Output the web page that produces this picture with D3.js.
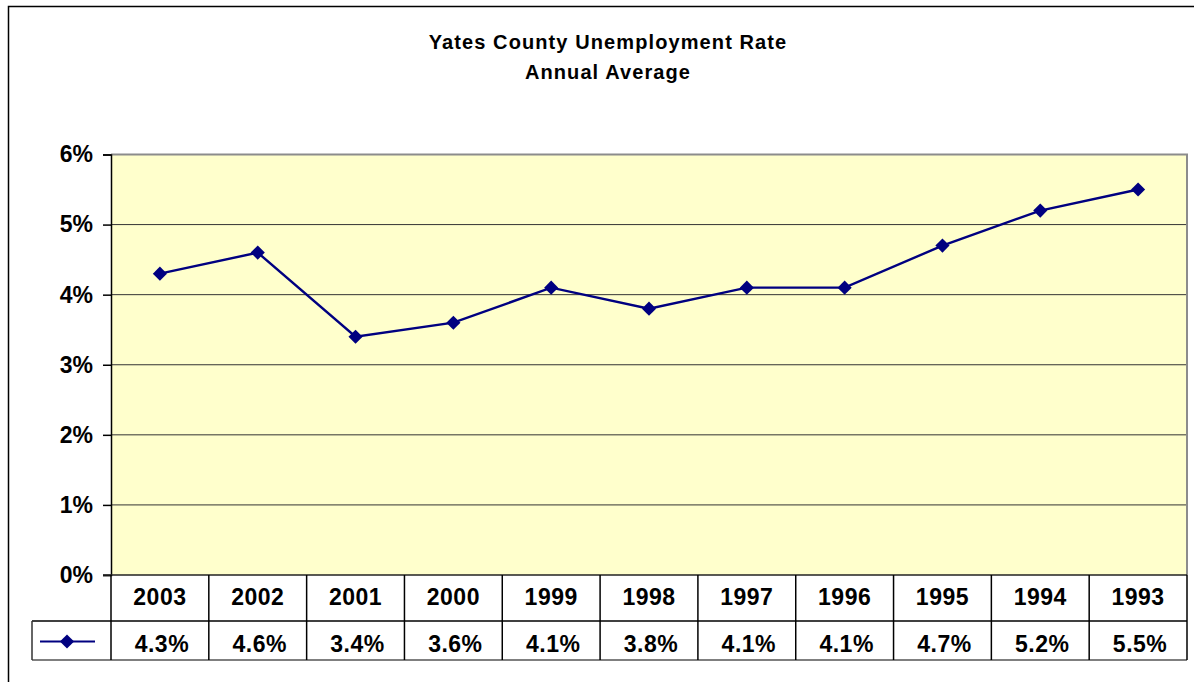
<!DOCTYPE html>
<html>
<head>
<meta charset="utf-8">
<script src="https://cdn.jsdelivr.net/npm/d3@7"></script>
<style>
  body { margin: 0; background: #fff; }
  text { font-family: Arial, "Liberation Sans", sans-serif; font-weight: bold; fill: #000; }
</style>
</head>
<body>
<div id="chart"></div>
<script>
// chart values
var years = ["2003", "2002", "2001", "2000", "1999", "1998", "1997", "1996", "1995", "1994", "1993"];
var rates = [0.043, 0.046, 0.034, 0.036, 0.041, 0.038, 0.041, 0.041, 0.047, 0.052, 0.055];
var yTicks = [0, 0.01, 0.02, 0.03, 0.04, 0.05, 0.06];
var titleLines = ["Yates County Unemployment Rate", "Annual Average"];

var width = 1194, height = 682;
var plotLeft = 111, plotRight = 1187, plotTop = 154.5, plotBottom = 575;
var row1Bottom = 621, row2Bottom = 660, legendLeft = 32;

var svg = d3.select("#chart").append("svg")
    .attr("width", width)
    .attr("height", height);

// outer chart border (right and bottom fall off the picture)
svg.append("rect")
    .attr("x", 8.5).attr("y", 6.5)
    .attr("width", 1200).attr("height", 700)
    .attr("fill", "none").attr("stroke", "#000").attr("stroke-width", 1.5);

// title
svg.selectAll("text.title")
    .data(titleLines)
    .enter().append("text")
    .attr("class", "title")
    .attr("x", 608)
    .attr("y", function(d, i) { return 49 + i * 30; })
    .attr("text-anchor", "middle")
    .style("font-size", "20px")
    .style("letter-spacing", "1.1px")
    .text(function(d) { return d; });

var x = d3.scaleBand().domain(years).range([plotLeft, plotRight]).padding(0);
var y = d3.scaleLinear().domain([0, 0.06]).range([plotBottom, plotTop]);

// plot background
svg.append("rect")
    .attr("x", plotLeft).attr("y", plotTop)
    .attr("width", plotRight - plotLeft).attr("height", plotBottom - plotTop)
    .attr("fill", "#ffffcc");

// gridlines
svg.selectAll("line.grid")
    .data(yTicks.filter(function(t) { return t > 0 && t < 0.06; }))
    .enter().append("line")
    .attr("class", "grid")
    .attr("x1", plotLeft).attr("x2", plotRight)
    .attr("y1", function(d) { return y(d); })
    .attr("y2", function(d) { return y(d); })
    .attr("stroke", "#333").attr("stroke-width", 1);

// plot top + right border (gray)
svg.append("path")
    .attr("d", "M" + plotLeft + "," + plotTop + "H" + plotRight + "V" + plotBottom)
    .attr("fill", "none").attr("stroke", "#8c8c8c").attr("stroke-width", 2);

// y axis
var yAxis = d3.axisLeft(y)
    .tickValues(yTicks)
    .tickFormat(d3.format(".0%"))
    .tickSize(8)
    .tickPadding(10);
var gy = svg.append("g")
    .attr("transform", "translate(" + plotLeft + ",0)")
    .call(yAxis);
gy.select(".domain").attr("stroke", "#000").attr("stroke-width", 1.5);
gy.selectAll(".tick line").attr("stroke", "#000").attr("stroke-width", 1.5);
gy.selectAll(".tick text")
    .style("font-family", "Arial, 'Liberation Sans', sans-serif")
    .style("font-weight", "bold")
    .style("font-size", "23px")
    .attr("fill", "#000");

// line and markers
var line = d3.line()
    .x(function(d, i) { return x(years[i]) + x.bandwidth() / 2; })
    .y(function(d) { return y(d); });

svg.append("path")
    .datum(rates)
    .attr("d", line)
    .attr("fill", "none")
    .attr("stroke", "#000080")
    .attr("stroke-width", 2.4);

var diamond = d3.symbol().type(d3.symbolSquare).size(100);
svg.selectAll("path.marker")
    .data(rates)
    .enter().append("path")
    .attr("class", "marker")
    .attr("d", diamond)
    .attr("transform", function(d, i) {
        return "translate(" + (x(years[i]) + x.bandwidth() / 2) + "," + y(d) + ") rotate(45)";
    })
    .attr("fill", "#000080");

// data table
var table = svg.append("g");
// horizontal rules
table.append("line")
    .attr("x1", plotLeft - 8).attr("x2", plotRight)
    .attr("y1", plotBottom).attr("y2", plotBottom)
    .attr("stroke", "#222").attr("stroke-width", 1.5);
table.append("line")
    .attr("x1", legendLeft).attr("x2", plotRight)
    .attr("y1", row1Bottom).attr("y2", row1Bottom)
    .attr("stroke", "#000").attr("stroke-width", 1.5);
table.append("line")
    .attr("x1", legendLeft).attr("x2", plotRight)
    .attr("y1", row2Bottom).attr("y2", row2Bottom)
    .attr("stroke", "#555").attr("stroke-width", 1.5);
// vertical rules
var edges = years.map(function(d) { return x(d); }).concat([plotRight]);
table.selectAll("line.col")
    .data(edges)
    .enter().append("line")
    .attr("class", "col")
    .attr("x1", function(d) { return d; }).attr("x2", function(d) { return d; })
    .attr("y1", plotBottom).attr("y2", row2Bottom)
    .attr("stroke", "#000").attr("stroke-width", 1.5);
table.append("line")
    .attr("x1", legendLeft).attr("x2", legendLeft)
    .attr("y1", row1Bottom).attr("y2", row2Bottom)
    .attr("stroke", "#333").attr("stroke-width", 1.5);

// year labels
table.selectAll("text.year")
    .data(years)
    .enter().append("text")
    .attr("class", "year")
    .attr("x", function(d) { return x(d) + x.bandwidth() / 2; })
    .attr("y", 605)
    .attr("text-anchor", "middle")
    .style("font-size", "23px")
    .style("letter-spacing", "0.5px")
    .text(function(d) { return d; });

// value labels
var pct = d3.format(".1%");
table.selectAll("text.value")
    .data(rates)
    .enter().append("text")
    .attr("class", "value")
    .attr("x", function(d, i) { return x(years[i]) + x.bandwidth() / 2 + 2; })
    .attr("y", 652)
    .attr("text-anchor", "middle")
    .style("font-size", "23px")
    .style("letter-spacing", "0.5px")
    .text(function(d) { return pct(d); });

// legend key
var keyY = (row1Bottom + row2Bottom) / 2 + 1;
table.append("line")
    .attr("x1", 40).attr("x2", 95)
    .attr("y1", keyY).attr("y2", keyY)
    .attr("stroke", "#000080").attr("stroke-width", 2);
table.append("path")
    .attr("d", diamond)
    .attr("transform", "translate(67," + keyY + ") rotate(45)")
    .attr("fill", "#000080");
</script>
</body>
</html>
